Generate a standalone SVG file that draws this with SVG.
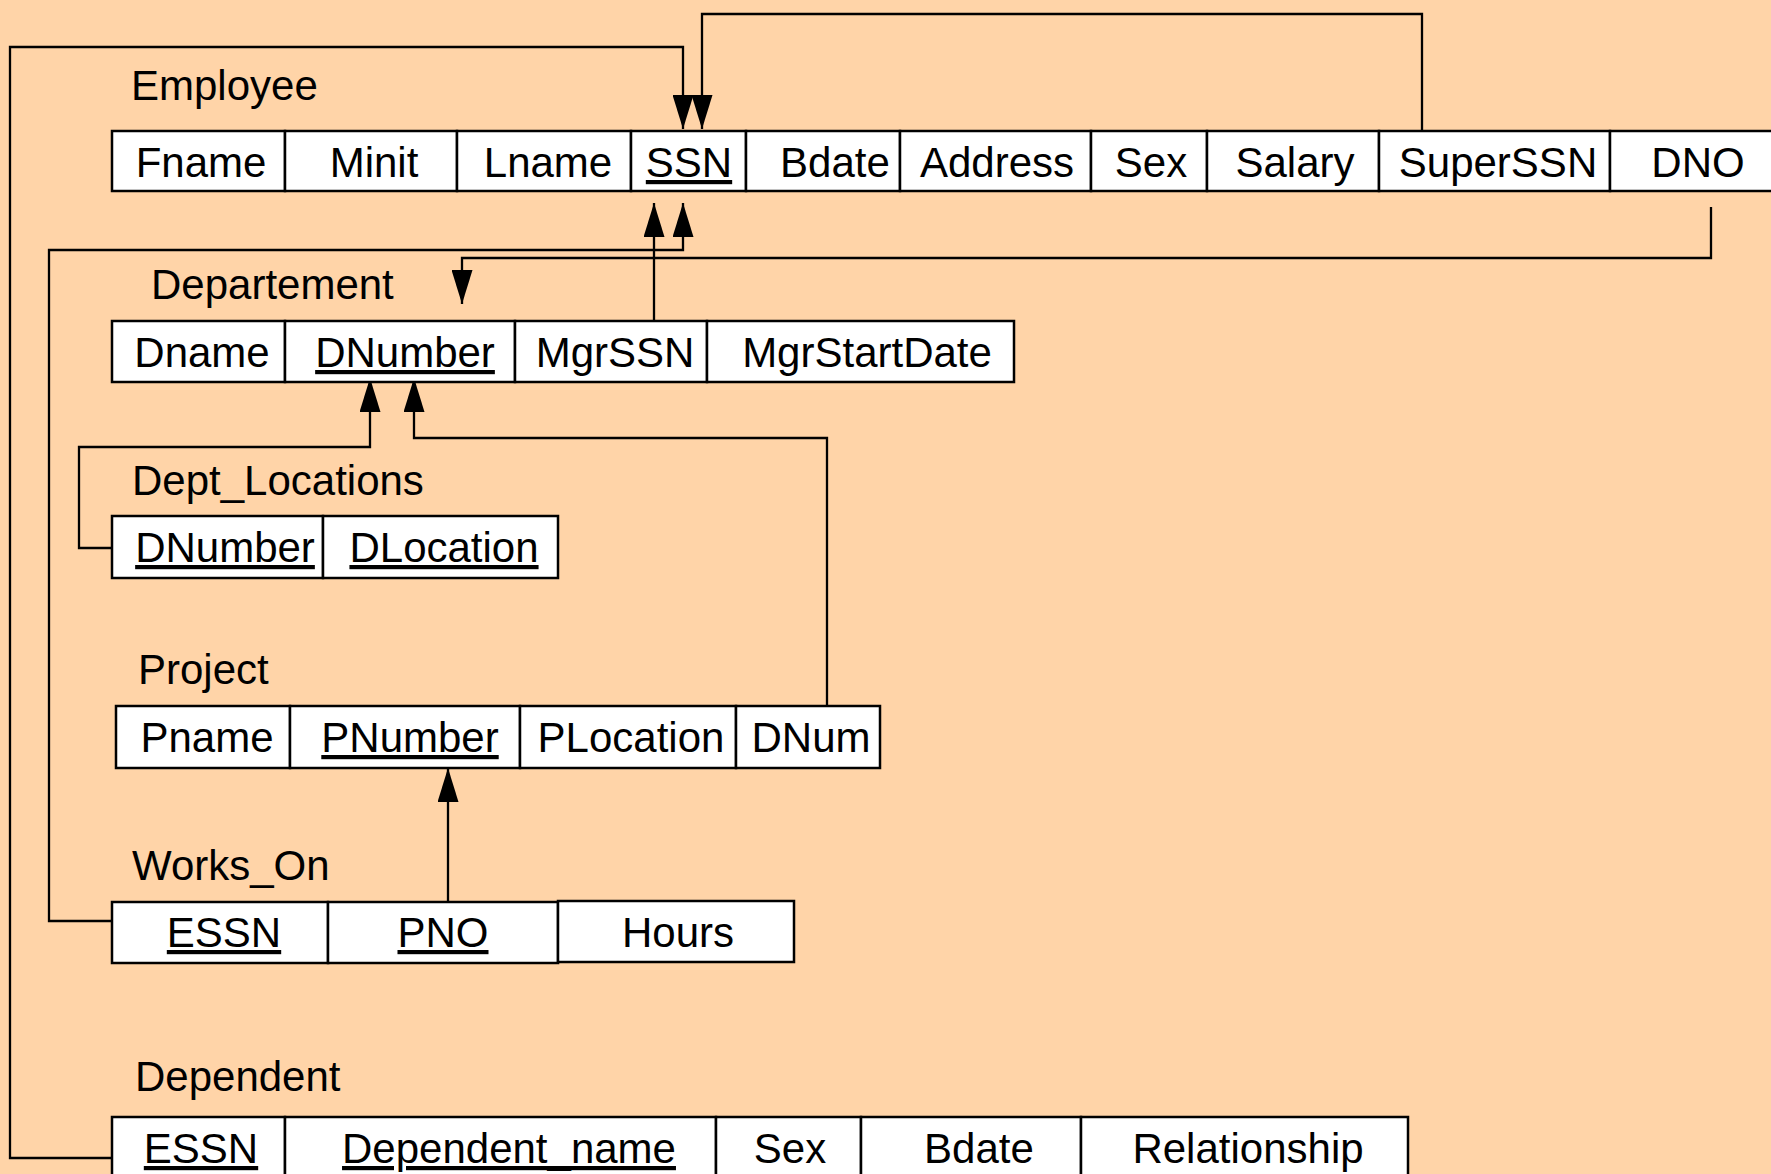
<svg xmlns="http://www.w3.org/2000/svg" width="1771" height="1174" viewBox="0 0 1771 1174">
  <style>
    .cell { fill: #ffffff; stroke: #000000; stroke-width: 2.5; }
    .t { font-family: "Liberation Sans", Arial, sans-serif; font-size: 42px; fill: #000000; text-anchor: middle; }
    .key { text-decoration: underline; }
    .title { font-family: "Liberation Sans", Arial, sans-serif; font-size: 42px; fill: #000000; }
    .fk { fill: none; stroke: #000000; stroke-width: 2.3; marker-end: url(#head); }
  </style>
  <defs>
    <marker id="head" markerUnits="userSpaceOnUse" markerWidth="34" markerHeight="21" refX="34" refY="10.5" orient="auto" viewBox="0 0 34 21">
      <path d="M0,0 L34,10.5 L0,21 Z" fill="#000000"/>
    </marker>
  </defs>

  <rect x="0" y="0" width="1771" height="1174" fill="#ffd4a8"/>

  <!-- foreign key references -->
  <g id="connectors">
    <path class="fk" d="M112,1158 H10 V47 H683 V129"/>
    <path class="fk" d="M1422,131 V14 H702 V129"/>
    <path class="fk" d="M112,921 H49 V250 H683 V203"/>
    <path class="fk" d="M654,325 V203"/>
    <path class="fk" d="M1711,207 V258 H462 V304"/>
    <path class="fk" d="M112,548 H79 V447 H370 V378"/>
    <path class="fk" d="M827,715 V438 H414 V378"/>
    <path class="fk" d="M448,901 V768"/>
  </g>

  <g id="employee">
    <text class="title" x="131" y="100">Employee</text>
    <rect class="cell" x="112" y="131" width="173" height="60"/>
    <rect class="cell" x="285" y="131" width="172" height="60"/>
    <rect class="cell" x="457" y="131" width="174" height="60"/>
    <rect class="cell" x="631" y="131" width="115" height="60"/>
    <rect class="cell" x="746" y="131" width="154" height="60"/>
    <rect class="cell" x="900" y="131" width="191" height="60"/>
    <rect class="cell" x="1091" y="131" width="116" height="60"/>
    <rect class="cell" x="1207" y="131" width="172" height="60"/>
    <rect class="cell" x="1379" y="131" width="231" height="60"/>
    <rect class="cell" x="1610" y="131" width="180" height="60"/>
    <text class="t" x="201" y="177">Fname</text>
    <text class="t" x="374" y="177">Minit</text>
    <text class="t" x="548" y="177">Lname</text>
    <text class="t key" x="689" y="177">SSN</text>
    <text class="t" x="835" y="177">Bdate</text>
    <text class="t" x="997" y="177">Address</text>
    <text class="t" x="1151" y="177">Sex</text>
    <text class="t" x="1295" y="177">Salary</text>
    <text class="t" x="1498" y="177">SuperSSN</text>
    <text class="t" x="1698" y="177">DNO</text>
  </g>

  <g id="departement">
    <text class="title" x="151" y="299">Departement</text>
    <rect class="cell" x="112" y="321" width="173" height="61"/>
    <rect class="cell" x="285" y="321" width="230" height="61"/>
    <rect class="cell" x="515" y="321" width="192" height="61"/>
    <rect class="cell" x="707" y="321" width="307" height="61"/>
    <text class="t" x="202" y="367">Dname</text>
    <text class="t key" x="405" y="367">DNumber</text>
    <text class="t" x="615" y="367">MgrSSN</text>
    <text class="t" x="867" y="367">MgrStartDate</text>
  </g>

  <g id="dept-locations">
    <text class="title" x="132" y="495">Dept_Locations</text>
    <rect class="cell" x="112" y="516" width="211" height="62"/>
    <rect class="cell" x="323" y="516" width="235" height="62"/>
    <text class="t key" x="225" y="562">DNumber</text>
    <text class="t key" x="444" y="562">DLocation</text>
  </g>

  <g id="project">
    <text class="title" x="138" y="684">Project</text>
    <rect class="cell" x="116" y="706" width="174" height="62"/>
    <rect class="cell" x="290" y="706" width="230" height="62"/>
    <rect class="cell" x="520" y="706" width="216" height="62"/>
    <rect class="cell" x="736" y="706" width="144" height="62"/>
    <text class="t" x="207" y="752">Pname</text>
    <text class="t key" x="410" y="752">PNumber</text>
    <text class="t" x="631" y="752">PLocation</text>
    <text class="t" x="811" y="752">DNum</text>
  </g>

  <g id="works-on">
    <text class="title" x="132" y="880">Works_On</text>
    <rect class="cell" x="112" y="902" width="216" height="61"/>
    <rect class="cell" x="328" y="902" width="230" height="61"/>
    <rect class="cell" x="558" y="901" width="236" height="61"/>
    <text class="t key" x="224" y="947">ESSN</text>
    <text class="t key" x="443" y="947">PNO</text>
    <text class="t" x="678" y="947">Hours</text>
  </g>

  <g id="dependent">
    <text class="title" x="135" y="1091">Dependent</text>
    <rect class="cell" x="112" y="1117" width="173" height="80"/>
    <rect class="cell" x="285" y="1117" width="431" height="80"/>
    <rect class="cell" x="716" y="1117" width="145" height="80"/>
    <rect class="cell" x="861" y="1117" width="220" height="80"/>
    <rect class="cell" x="1081" y="1117" width="327" height="80"/>
    <text class="t key" x="201" y="1163">ESSN</text>
    <text class="t key" x="509" y="1163">Dependent_name</text>
    <text class="t" x="790" y="1163">Sex</text>
    <text class="t" x="979" y="1163">Bdate</text>
    <text class="t" x="1248" y="1163">Relationship</text>
  </g>
</svg>
